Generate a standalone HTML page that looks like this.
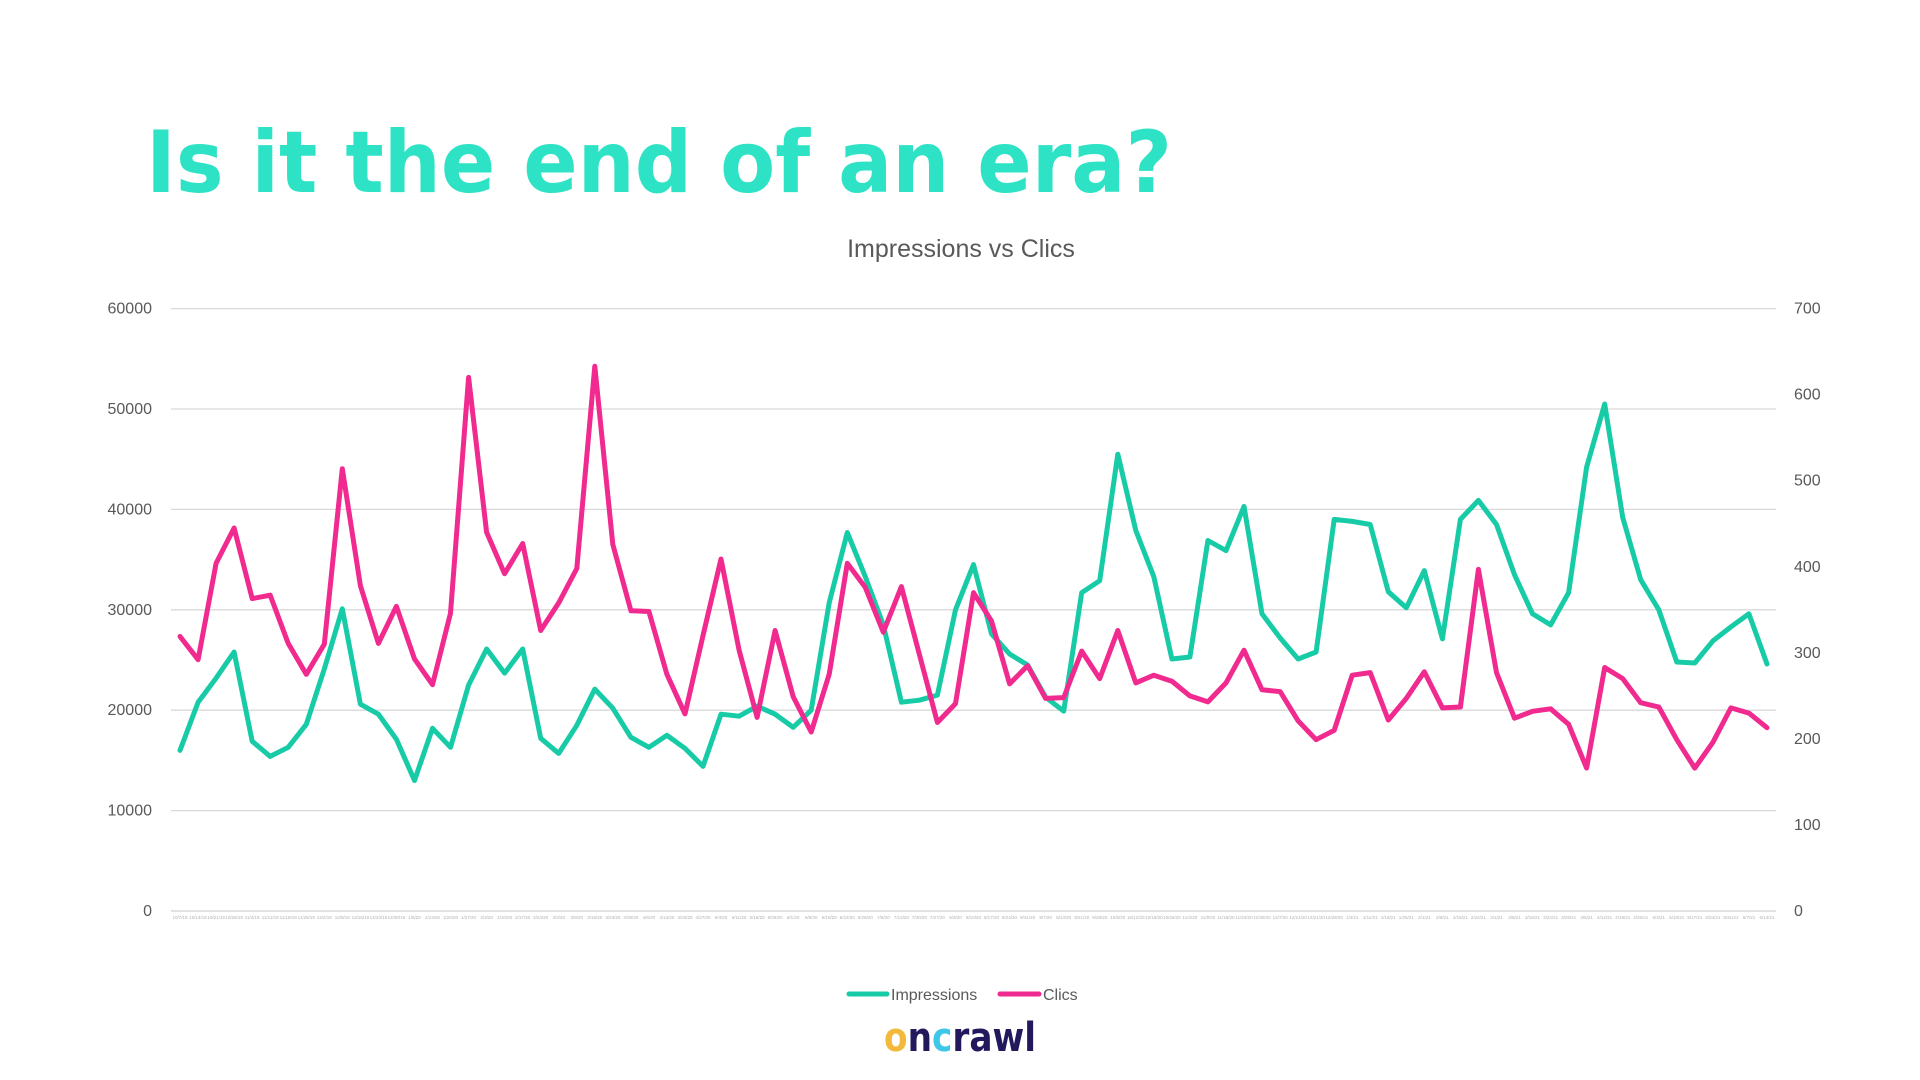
<!DOCTYPE html>
<html><head><meta charset="utf-8"><title>Is it the end of an era?</title>
<style>html,body{margin:0;padding:0;background:#fff;}svg{display:block;}</style></head>
<body>
<svg id="chart" width="1920" height="1080" viewBox="0 0 1920 1080" xmlns="http://www.w3.org/2000/svg" font-family="Liberation Sans, sans-serif">
<rect width="1920" height="1080" fill="#ffffff"/>
<text x="146" y="192" font-family="DejaVu Sans, sans-serif" font-weight="bold" font-size="86" fill="#2ee3c5" textLength="1026" lengthAdjust="spacingAndGlyphs">Is it the end of an era?</text>
<text x="961" y="257" text-anchor="middle" font-size="25" fill="#595959">Impressions vs Clics</text>
<g id="grid"></g>
<g id="yleft"></g>
<g id="yright"></g>
<g id="xaxis"></g>
<g id="series"></g>
<g>
  <line x1="849" y1="994" x2="887" y2="994" stroke="#18cba7" stroke-width="5" stroke-linecap="round"/>
  <text x="891" y="1000" font-size="16" fill="#595959">Impressions</text>
  <line x1="1000" y1="994" x2="1039" y2="994" stroke="#f02a8e" stroke-width="5" stroke-linecap="round"/>
  <text x="1043" y="1000" font-size="16" fill="#595959">Clics</text>
</g>
<g>
  <text x="884" y="1051" font-family="DejaVu Sans, sans-serif" font-weight="bold" font-size="40" fill="#22195c" textLength="152" lengthAdjust="spacingAndGlyphs"><tspan fill="#f3b93a">o</tspan>n<tspan fill="#3fc7e8">c</tspan>rawl</text>
</g>
</svg>
<script>
const impressions = [16000,20800,23200,25800,16900,15400,16300,18600,24100,30100,20600,19600,17100,13000,18200,16300,22500,26100,23700,26100,17200,15700,18500,22100,20200,17300,16300,17500,16200,14400,19600,19400,20400,19600,18300,20000,30700,37700,33300,28500,20800,21000,21500,30000,34500,27600,25600,24500,21300,19900,31700,32900,45500,37900,33300,25100,25300,36900,35900,40300,29600,27200,25100,25800,39000,38800,38500,31800,30200,33900,27100,39000,40900,38500,33500,29600,28500,31700,44200,50500,39200,33000,30000,24800,24700,26900,28300,29600,24600];
const clics = [319,292,404,445,363,367,311,275,310,514,378,311,354,293,263,346,620,440,392,427,326,358,398,633,426,349,348,275,229,320,409,303,225,326,249,208,275,404,376,324,377,298,219,241,370,337,264,285,247,248,302,270,326,265,274,267,250,243,265,303,257,255,221,199,210,274,277,222,247,278,236,237,397,277,224,232,235,217,166,283,270,242,237,199,166,196,236,230,213];
const leftTicks = [0,10000,20000,30000,40000,50000,60000];
const rightTicks = [0,100,200,300,400,500,600,700];

const NS = 'http://www.w3.org/2000/svg';
const X0 = 171, X1 = 1776, Y0 = 911, Y1 = 308.6;
const n = impressions.length;
const band = (X1 - X0) / n;
function xPos(i){ return X0 + (i + 0.5) * band; }
function yLeft(v){ return Y0 - v / 60000 * (Y0 - Y1); }
function yRight(v){ return Y0 - v / 700 * (Y0 - Y1); }
function mk(tag, attrs, parent){ const e = document.createElementNS(NS, tag); for (const k in attrs) e.setAttribute(k, attrs[k]); parent.appendChild(e); return e; }

const grid = document.getElementById('grid');
const yl = document.getElementById('yleft');
const yr = document.getElementById('yright');
leftTicks.forEach(v => {
  const y = yLeft(v);
  const gl = mk('line', {x1: X0, x2: X1, y1: y, y2: y, stroke: v === 0 ? '#d0d0d0' : '#d9d9d9', 'stroke-width': 1.3}, grid);
  
  
  const t = mk('text', {x: 152, y: y + 5, 'text-anchor': 'end', 'font-size': 16, fill: '#595959'}, yl);
  t.textContent = v;
  
  
});
rightTicks.forEach(v => {
  const t = mk('text', {x: 1794, y: yRight(v) + 5, 'font-size': 16, fill: '#595959'}, yr);
  t.textContent = v;
  
  
});
const xa = document.getElementById('xaxis');
const start = new Date(Date.UTC(2019, 9, 7));
for (let i = 0; i < n; i++) {
  const d = new Date(start.getTime() + i * 7 * 86400000);
  const t = mk('text', {x: xPos(i), y: 919, 'text-anchor': 'middle', 'font-size': 4.5, fill: '#b0b0b0'}, xa);
  t.textContent = (d.getUTCMonth()+1) + '/' + d.getUTCDate() + '/' + String(d.getUTCFullYear()).slice(2);
  
  
}
const sg = document.getElementById('series');
const p1 = mk('polyline', {points: impressions.map((v,i) => xPos(i).toFixed(1)+','+yLeft(v).toFixed(1)).join(' '), fill: 'none', stroke: '#18cba7', 'stroke-width': 5, 'stroke-linejoin': 'round', 'stroke-linecap': 'round'}, sg);


const p2 = mk('polyline', {points: clics.map((v,i) => xPos(i).toFixed(1)+','+yRight(v).toFixed(1)).join(' '), fill: 'none', stroke: '#f02a8e', 'stroke-width': 5, 'stroke-linejoin': 'round', 'stroke-linecap': 'round'}, sg);


</script>
</body></html>
